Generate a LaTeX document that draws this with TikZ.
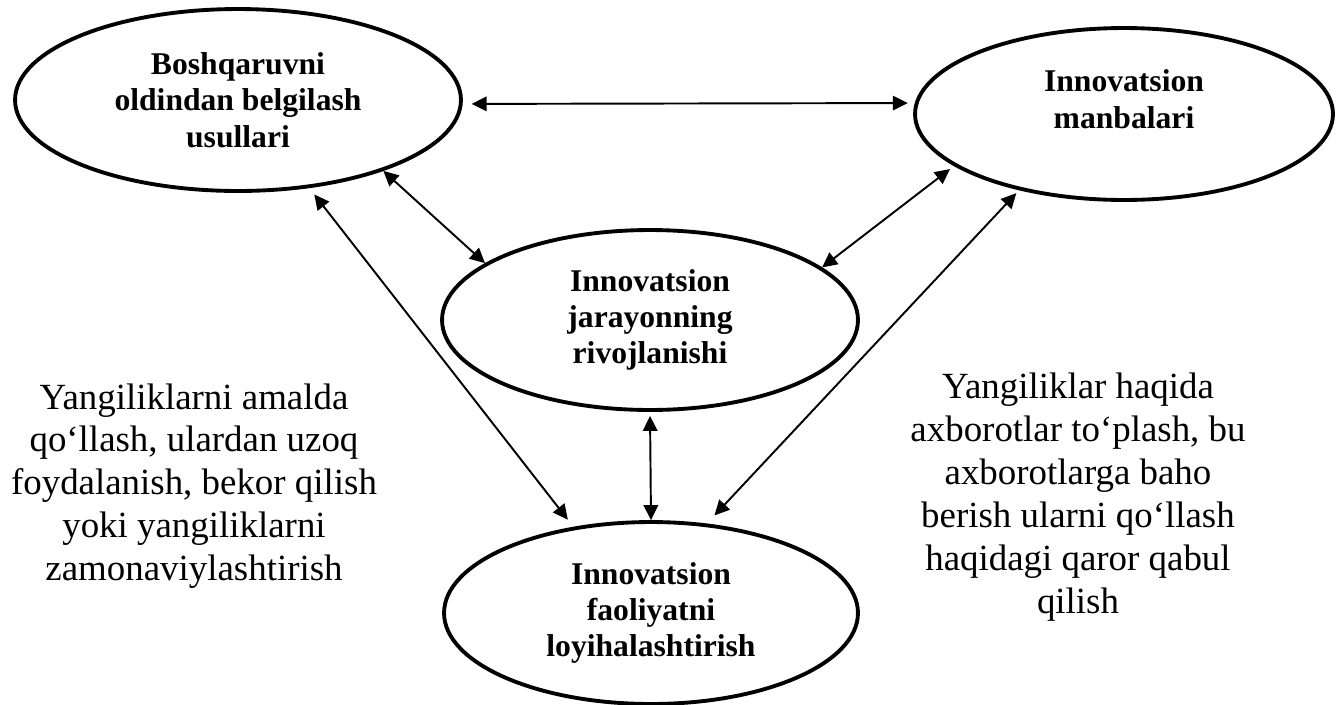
\documentclass[tikz,border=0pt]{standalone}
\usepackage{fontspec}
\setmainfont{Liberation Serif}
\usepackage{tikz}
\usetikzlibrary{shapes.geometric, arrows.meta}
\tikzset{
  bubble/.style={ellipse, draw=black, line width=2.2pt, inner sep=0pt, align=center, font=\fontsize{18pt}{20.7pt}\selectfont\bfseries},
  note/.style={align=center, inner sep=0pt, font=\fontsize{21pt}{24.4pt}\selectfont},
  biarrow/.style={{Triangle[length=3mm, width=2.9mm]}-{Triangle[length=3mm, width=2.9mm]}, line width=1.1pt},
}
\begin{document}
\begin{tikzpicture}[x=0.02cm, y=-0.02cm]
\useasboundingbox (0,0) rectangle (1344,704);
\node (b1) [bubble, minimum width=8.92cm, minimum height=3.64cm] at (238,100) {Boshqaruvni\\oldindan belgilash\\usullari};
\node (b2) [bubble, minimum width=8.36cm, minimum height=3.44cm, text depth=0.6cm] at (1124,114) {Innovatsion\\manbalari};
\node (b3) [bubble, minimum width=8.32cm, minimum height=3.6cm] at (650,320) {Innovatsion\\jarayonning\\rivojlanishi};
\node (b4) [bubble, minimum width=8.28cm, minimum height=3.64cm] at (651,613) {Innovatsion\\faoliyatni\\loyihalashtirish};
\node (n1) [note] at (194,486) {Yangiliklarni amalda\\qo‘llash, ulardan uzoq\\foydalanish, bekor qilish\\yoki yangiliklarni\\zamonaviylashtirish};
\node (n2) [note] at (1078,497) {Yangiliklar haqida\\axborotlar to‘plash, bu\\axborotlarga baho\\berish ularni qo‘llash\\haqidagi qaror qabul\\qilish};
\draw[biarrow, shorten <=0.18cm, shorten >=0.14cm] (b1.-1.2) -- (b2.177.6);
\draw[biarrow] (b1.-26.6) -- (b3.161.9);
\draw[biarrow, shorten <=0.16cm, shorten >=0.18cm] (b1.-51.7) -- (b4.132.1);
\draw[biarrow, shorten <=0.1cm] (b2.197.2) -- (b3.17.2);
\draw[biarrow, shorten <=0.08cm, shorten >=0.22cm] (b2.216.4) -- (b4.58.6);
\draw[biarrow, shorten <=0.08cm] (b3.south) -- (b4.north);
\end{tikzpicture}
\end{document}
